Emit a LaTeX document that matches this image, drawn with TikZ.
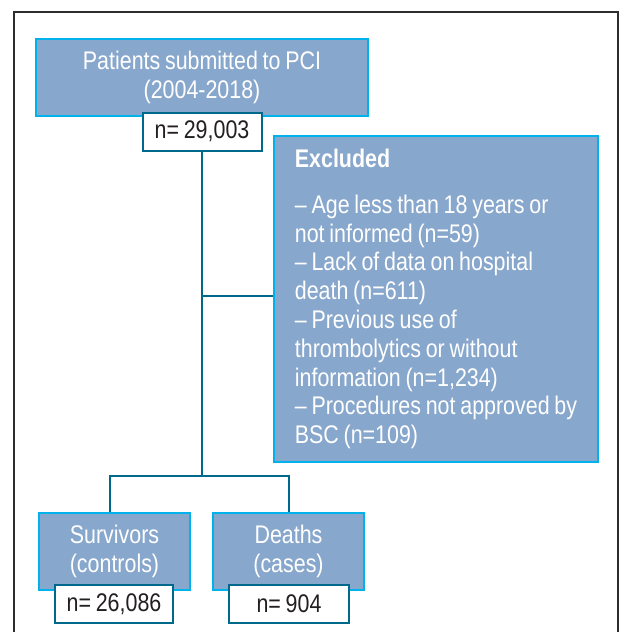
\documentclass[tikz,border=0pt]{standalone}
\usepackage{fontspec}
\setmainfont{Liberation Sans}[FakeStretch=0.84, WordSpace=0.8]
\definecolor{boxfill}{RGB}{136,167,204}
\definecolor{edge}{RGB}{0,178,236}
\definecolor{teal}{RGB}{0,104,139}
\definecolor{ink}{RGB}{35,31,32}
\definecolor{frame}{RGB}{45,45,45}
\usetikzlibrary{positioning,calc}
\tikzset{
  stage/.style={draw=edge, line width=2.4pt, fill=boxfill, text=white,
              align=center, inner sep=0pt, font=\fontsize{25.5}{28.8}\selectfont},
  count/.style={draw=teal, line width=2pt, fill=white, text=ink,
              align=center, inner sep=0pt, minimum height=38pt, font=\fontsize{25.5}{28.8}\selectfont},
  link/.style={teal, line width=2pt},
}
\begin{document}
\begin{tikzpicture}[x=1pt, y=-1pt]
        \useasboundingbox (0,0) rectangle (622,632);
        % ===================== frame =====================
        \draw[frame, line width=1.5pt] (14,640) -- (14,12) -- (618,12) -- (618,640);
        % ===================== top =====================
        \node[stage, minimum width=332pt, minimum height=77pt] (pci) at (202,77.5)
          {Patients submitted to PCI\\(2004-2018)};
        \node[count, minimum width=119pt] (ntot) at (202,131.5) {n= 29,003};
        % ===================== excluded =====================
        \node[stage, minimum width=324pt, minimum height=326pt, align=left] (excl) at (436,299)
          {\textbf{Excluded}\\[17pt]
           – Age less than 18 years or\\
           not informed (n=59)\\
           – Lack of data on hospital\\
           death (n=611)\\
           – Previous use of\\
           thrombolytics or without\\
           information (n=1,234)\\
           – Procedures not approved by\\
           BSC (n=109)};
        % ===================== groups =====================
        \coordinate (split) at (202,476);
        \draw[link] (ntot.south) -- (split);
        \draw[link] (ntot.south |- 0,296) -- (excl.west |- 0,296);
        \draw[link] (110,513) |- (split) -| (289,513);
        \node[stage, minimum width=151pt, minimum height=77pt] (surv) at (114.5,551.5)
          {Survivors\\(controls)};
        \node[stage, minimum width=151pt, minimum height=77pt] (death) at (288.5,551.5)
          {Deaths\\(cases)};
        \node[count, minimum width=118pt] (nsurv) at (114,604) {n= 26,086};
        \node[count, minimum width=120pt] (ndeath) at (289,604) {n= 904};
      \end{tikzpicture}
\end{document}
